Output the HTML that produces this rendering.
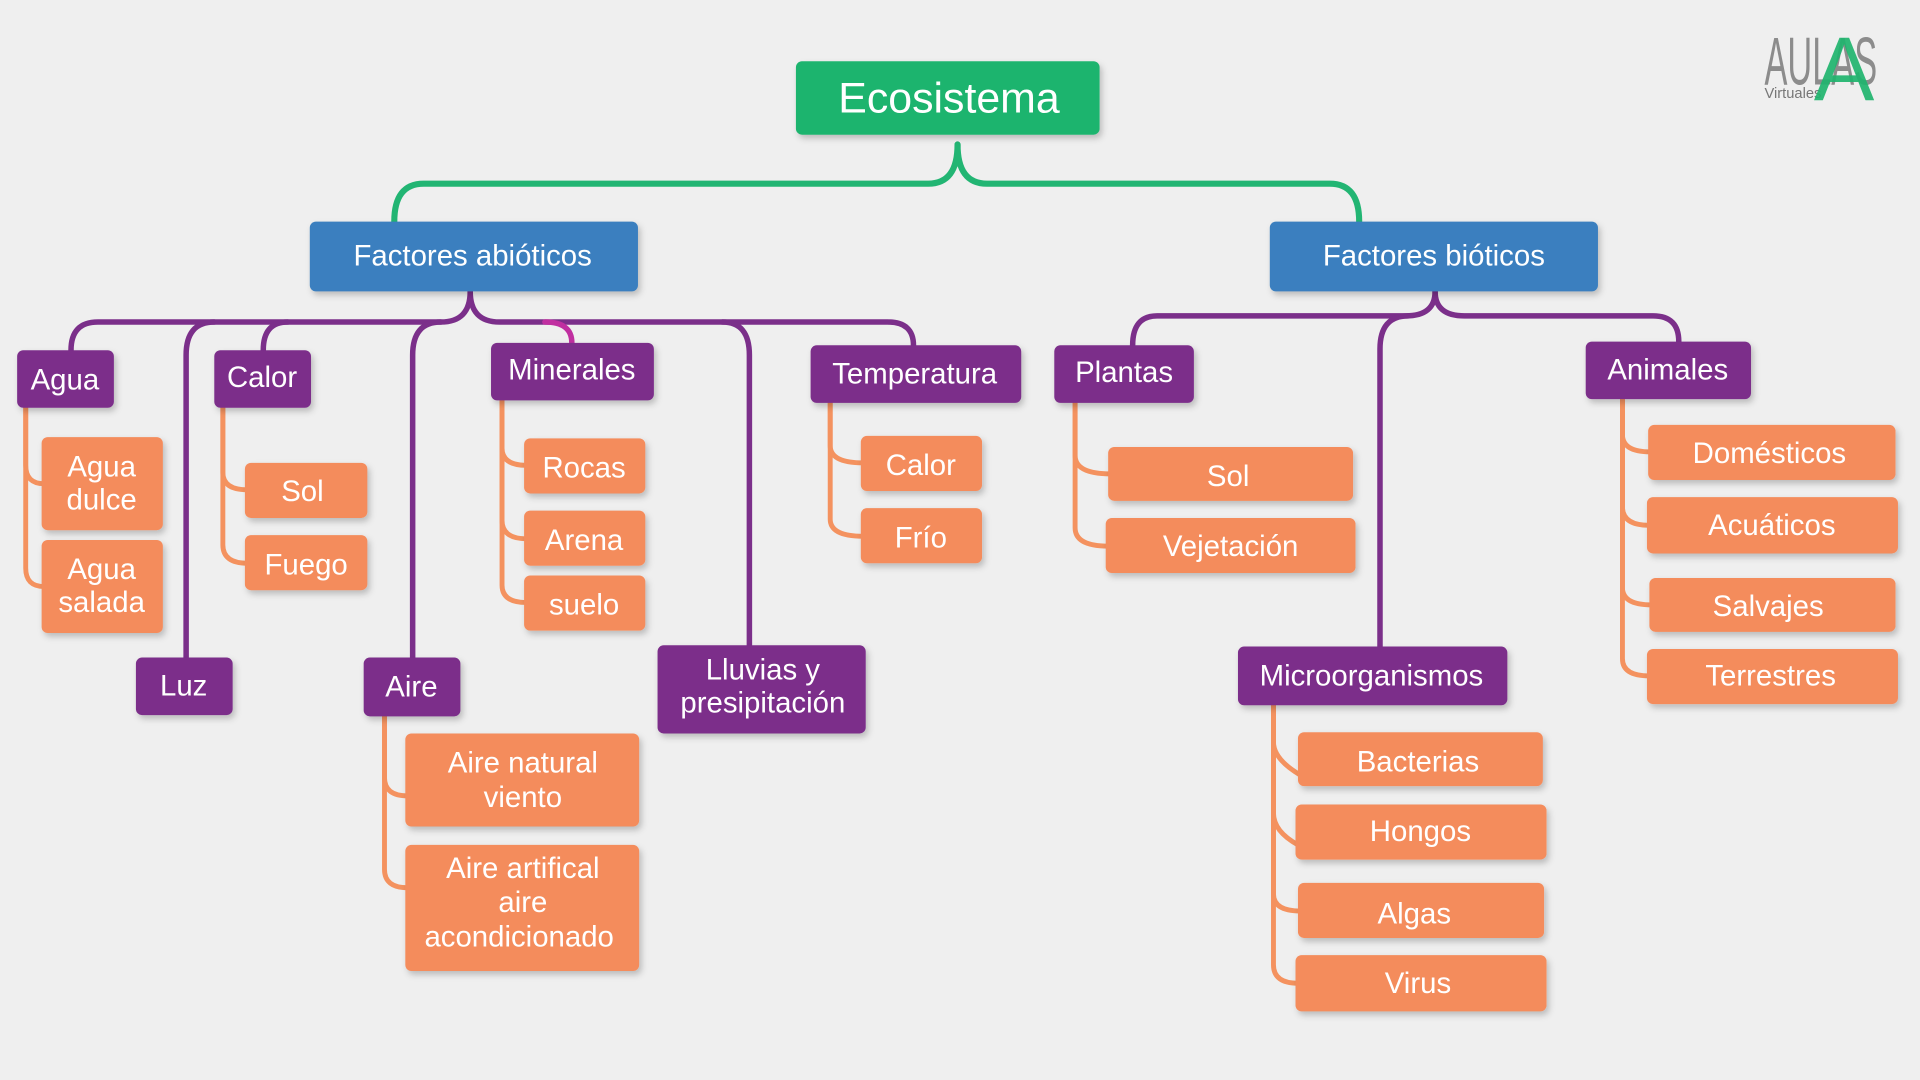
<!DOCTYPE html>
<html><head><meta charset="utf-8"><style>
html,body{margin:0;padding:0;background:#efefef;}
svg{display:block}
text{font-family:"Liberation Sans",sans-serif;fill:#fff;text-anchor:middle;}
</style></head><body>
<svg width="1920" height="1080" viewBox="0 0 1568 882" xmlns="http://www.w3.org/2000/svg">
<defs><filter id="sh" x="-10%" y="-10%" width="130%" height="140%"><feDropShadow dx="2" dy="3" stdDeviation="2.5" flood-color="#000" flood-opacity="0.22"/></filter></defs>
<rect width="1568" height="882" fill="#efefef"/>
<!-- logo -->
<text x="1487" y="69" style="font-size:55px;fill:#8c8c8c;text-anchor:middle" textLength="92" lengthAdjust="spacingAndGlyphs">AULAS</text>
<text x="1441" y="80" style="font-size:12px;fill:#777;text-anchor:start">Virtuales</text>
<text x="1506" y="82" style="font-size:74px;fill:#1fb46e;fill-opacity:0.92">A</text>

<g fill="none" stroke-linecap="round">
<path d="M782,118 Q782,150 758,150 H346 Q322,150 322,181" stroke="#22b573" stroke-width="5"/>
<path d="M782,118 Q782,150 806,150 H1086 Q1110,150 1110,181" stroke="#22b573" stroke-width="5"/>
<g stroke="#7b2f8a" stroke-width="4.5">
<path d="M384,238 Q384,263 360,263 H80 Q58,263 58,286"/>
<path d="M384,238 Q384,263 408,263 H725 Q746,263 746,282"/>
<path d="M175,263 Q152,263 152,290 V537"/>
<path d="M235,263 Q215,263 215,286"/>
<path d="M360,263 Q337,263 337,290 V537"/>
<path d="M590,263 Q612,263 612,290 V527"/>
<path d="M1172,238 Q1172,258 1148,258 H945 Q925,258 925,282"/>
<path d="M1172,238 Q1172,258 1196,258 H1350 Q1371,258 1371,279"/>
<path d="M1150,258 Q1127,258 1127,285 V528"/>
</g>
<path d="M445,263 Q467,263 467,280" stroke="#c02fa0" stroke-width="4.5"/>
<g stroke="#f4925f" stroke-width="4">
<path d="M21,333 V380 Q21,395 36,395"/>
<path d="M21,333 V464 Q21,479 36,479"/>
<path d="M182,333 V386 Q182,400 202,400"/>
<path d="M182,333 V445 Q182,460 202,460"/>
<path d="M410,327 V366 Q410,380 430,380"/>
<path d="M410,327 V425 Q410,440 430,440"/>
<path d="M410,327 V478 Q410,492 430,492"/>
<path d="M678,329 V364 Q678,378 705,378"/>
<path d="M678,329 V424 Q678,438 705,438"/>
<path d="M878,329 V372 Q878,387 907,387"/>
<path d="M878,329 V431 Q878,446 905,446"/>
<path d="M1325,326 V355 Q1325,369 1348,369"/>
<path d="M1325,326 V414 Q1325,429 1347,429"/>
<path d="M1325,326 V480 Q1325,494 1349,494"/>
<path d="M1325,326 V538 Q1325,552 1347,552"/>
<path d="M314,585 V635 Q314,650 333,650"/>
<path d="M314,585 V710 Q314,725 333,725"/>
<path d="M1040,576 V606 Q1040,620 1062,633"/>
<path d="M1040,576 V664 Q1040,679 1060,690"/>
<path d="M1040,576 V730 Q1040,744 1062,744"/>
<path d="M1040,576 V788 Q1040,803 1060,803"/>
</g>
</g>

<g filter="url(#sh)">
<rect x="650" y="50" width="248" height="60" rx="5" fill="#1fb46e"/>
<rect x="253" y="181" width="268" height="57" rx="5" fill="#3b7fbf"/>
<rect x="1037" y="181" width="268" height="57" rx="5" fill="#3b7fbf"/>
<g fill="#7b2f8a">
<rect x="14" y="286" width="79" height="47" rx="5"/>
<rect x="175" y="286" width="79" height="47" rx="5"/>
<rect x="401" y="280" width="133" height="47" rx="5"/>
<rect x="662" y="282" width="172" height="47" rx="5"/>
<rect x="111" y="537" width="79" height="47" rx="5"/>
<rect x="297" y="537" width="79" height="48" rx="5"/>
<rect x="537" y="527" width="170" height="72" rx="5"/>
<rect x="861" y="282" width="114" height="47" rx="5"/>
<rect x="1295" y="279" width="135" height="47" rx="5"/>
<rect x="1011" y="528" width="220" height="48" rx="5"/>
</g>
<g fill="#f48c5c">
<rect x="34" y="357" width="99" height="76" rx="5"/>
<rect x="34" y="441" width="99" height="76" rx="5"/>
<rect x="200" y="378" width="100" height="45" rx="5"/>
<rect x="200" y="437" width="100" height="45" rx="5"/>
<rect x="428" y="358" width="99" height="45" rx="5"/>
<rect x="428" y="417" width="99" height="45" rx="5"/>
<rect x="428" y="470" width="99" height="45" rx="5"/>
<rect x="703" y="356" width="99" height="45" rx="5"/>
<rect x="703" y="415" width="99" height="45" rx="5"/>
<rect x="905" y="365" width="200" height="44" rx="5"/>
<rect x="903" y="423" width="204" height="45" rx="5"/>
<rect x="1346" y="347" width="202" height="45" rx="5"/>
<rect x="1345" y="406" width="205" height="46" rx="5"/>
<rect x="1347" y="472" width="201" height="44" rx="5"/>
<rect x="1345" y="530" width="205" height="45" rx="5"/>
<rect x="1060" y="598" width="200" height="44" rx="5"/>
<rect x="1058" y="657" width="205" height="45" rx="5"/>
<rect x="1060" y="721" width="201" height="45" rx="5"/>
<rect x="1058" y="780" width="205" height="46" rx="5"/>
<rect x="331" y="599" width="191" height="76" rx="5"/>
<rect x="331" y="690" width="191" height="103" rx="5"/>
</g>
</g>

<text x="775" y="92" style="font-size:35px">Ecosistema</text>
<g style="font-size:24px">
<text x="386" y="217">Factores abióticos</text>
<text x="1171" y="217">Factores bióticos</text>
<text x="53" y="318">Agua</text>
<text x="214" y="316">Calor</text>
<text x="467" y="310">Minerales</text>
<text x="747" y="313">Temperatura</text>
<text x="150" y="568">Luz</text>
<text x="336" y="569">Aire</text>
<text x="623" y="555">Lluvias y</text>
<text x="623" y="582">presipitación</text>
<text x="918" y="312">Plantas</text>
<text x="1362" y="310">Animales</text>
<text x="1120" y="560">Microorganismos</text>
<text x="83" y="389">Agua</text>
<text x="83" y="416">dulce</text>
<text x="83" y="473">Agua</text>
<text x="83" y="500">salada</text>
<text x="247" y="409">Sol</text>
<text x="250" y="469">Fuego</text>
<text x="477" y="390">Rocas</text>
<text x="477" y="449">Arena</text>
<text x="477" y="502">suelo</text>
<text x="752" y="388">Calor</text>
<text x="752" y="447">Frío</text>
<text x="1003" y="397">Sol</text>
<text x="1005" y="454">Vejetación</text>
<text x="1445" y="378">Domésticos</text>
<text x="1447" y="437">Acuáticos</text>
<text x="1444" y="503">Salvajes</text>
<text x="1446" y="560">Terrestres</text>
<text x="1158" y="630">Bacterias</text>
<text x="1160" y="687">Hongos</text>
<text x="1155" y="754">Algas</text>
<text x="1158" y="811">Virus</text>
<text x="427" y="631">Aire natural</text>
<text x="427" y="659">viento</text>
<text x="427" y="717">Aire artifical</text>
<text x="427" y="745">aire</text>
<text x="424" y="773">acondicionado</text>
</g>
</svg>
</body></html>
